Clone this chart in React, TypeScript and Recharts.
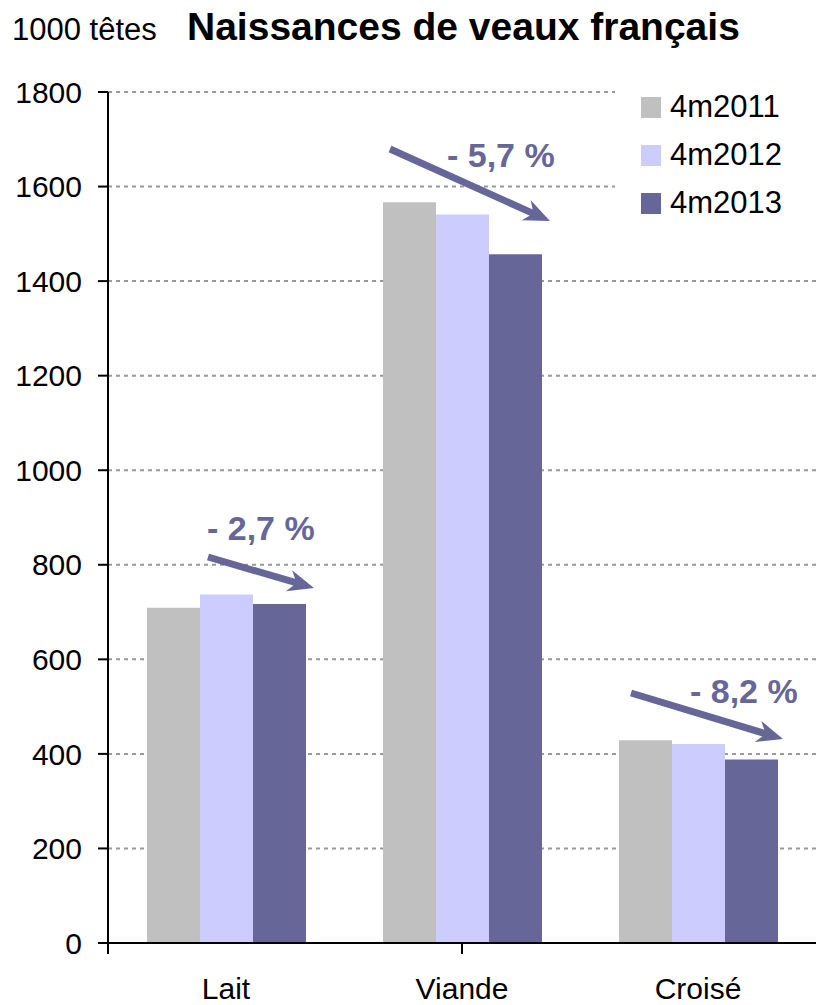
import React from 'react';
import { BarChart, Bar, XAxis, YAxis, CartesianGrid, Legend } from 'recharts';

const CATEGORIES = ['Lait', 'Viande', 'Croisé'];
const SERIES_NAMES = ['4m2011', '4m2012', '4m2013'];
const VALUES_2011 = [709, 1567, 429];
const VALUES_2012 = [737, 1541, 421];
const VALUES_2013 = [717, 1457, 388];
const Y_TICKS = [0, 200, 400, 600, 800, 1000, 1200, 1400, 1600, 1800];
const CHANGE_LABELS = ['- 2,7 %', '- 5,7 %', '- 8,2 %'];

const COLORS = ['#c0c0c0', '#ccccff', '#666699'];
const FONT = '"Liberation Sans", Arial, sans-serif';

const data = CATEGORIES.map((name, i) => ({
  name,
  v2011: VALUES_2011[i],
  v2012: VALUES_2012[i],
  v2013: VALUES_2013[i],
}));

// annotation arrows, pixel positions over the chart
const ARROWS = [
  { x1: 208, y1: 557, x2: 314, y2: 588, tx: 207, ty: 540 },
  { x1: 390, y1: 149, x2: 550, y2: 221, tx: 447, ty: 167 },
  { x1: 631, y1: 693, x2: 783, y2: 739, tx: 690, ty: 703 },
];

const Arrow = ({ x1, y1, x2, y2 }: { x1: number; y1: number; x2: number; y2: number }) => {
  const dx = x2 - x1;
  const dy = y2 - y1;
  const len = Math.sqrt(dx * dx + dy * dy);
  const ux = dx / len;
  const uy = dy / len;
  const nx = -uy;
  const ny = ux;
  const L = 26;
  const W = 11;
  const bx = x2 - L * ux;
  const by = y2 - L * uy;
  const mx = x2 - 0.7 * L * ux;
  const my = y2 - 0.7 * L * uy;
  const pts = `${x2},${y2} ${bx + W * nx},${by + W * ny} ${mx},${my} ${bx - W * nx},${by - W * ny}`;
  return (
    <g>
      <line x1={x1} y1={y1} x2={mx + 2 * ux} y2={my + 2 * uy} stroke="#666699" strokeWidth={7} />
      <polygon points={pts} fill="#666699" />
    </g>
  );
};

const renderLegend = (props: any) => {
  const { payload } = props;
  return (
    <div style={{ background: '#fff', width: 201, height: 150, position: 'relative' }}>
      {(payload || []).map((entry: any, i: number) => (
        <div
          key={`leg-${i}`}
          style={{
            position: 'absolute',
            left: 26,
            top: 15 + i * 48,
            display: 'flex',
            alignItems: 'center',
            height: 22,
          }}
        >
          <span style={{ width: 20, height: 21, background: entry.color, display: 'inline-block' }} />
          <span style={{ marginLeft: 9, fontFamily: FONT, fontSize: 31, color: '#000', lineHeight: '22px' }}>
            {entry.value}
          </span>
        </div>
      ))}
    </div>
  );
};

export default function App() {
  return (
    <div style={{ position: 'absolute', left: 0, top: 0, width: 816, height: 1005, background: '#fff' }}>
      <BarChart
        width={816}
        height={1005}
        data={data}
        margin={{ top: 92, right: 0, bottom: 0, left: 0 }}
        barCategoryGap={39}
        barGap={0}
      >
        <CartesianGrid horizontal vertical={false} stroke="#999999" strokeWidth={2} strokeDasharray="4 4" />
        <XAxis
          dataKey="name"
          height={1}
          axisLine={{ stroke: '#000', strokeWidth: 2 }}
          tickLine={false}
          tickSize={0}
          tickMargin={35}
          tick={{ fill: '#000', fontSize: 30, fontFamily: FONT }}
        />
        {/* category boundary ticks under the axis */}
        <XAxis
          xAxisId="edges"
          type="number"
          domain={[0, 3]}
          ticks={[0, 1, 2, 3]}
          height={61}
          tick={() => <g />}
          axisLine={false}
          tickLine={{ stroke: '#000', strokeWidth: 2 }}
          tickSize={10}
        />
        <YAxis
          width={108}
          domain={[0, 1800]}
          ticks={Y_TICKS}
          interval={0}
          axisLine={{ stroke: '#000', strokeWidth: 2 }}
          tickLine={{ stroke: '#000', strokeWidth: 2 }}
          tickSize={10}
          tickMargin={16}
          tick={{ fill: '#000', fontSize: 30, fontFamily: FONT }}
        />
        <Legend
          layout="vertical"
          align="center"
          verticalAlign="middle"
          content={renderLegend}
          wrapperStyle={{ top: 81, left: 615, width: 201, height: 150 }}
        />
        <Bar dataKey="v2011" name={SERIES_NAMES[0]} fill={COLORS[0]} isAnimationActive={false} />
        <Bar dataKey="v2012" name={SERIES_NAMES[1]} fill={COLORS[1]} isAnimationActive={false} />
        <Bar dataKey="v2013" name={SERIES_NAMES[2]} fill={COLORS[2]} isAnimationActive={false} />
      </BarChart>
      <svg
        width={816}
        height={1005}
        style={{ position: 'absolute', left: 0, top: 0, pointerEvents: 'none' }}
      >
        <text x={12} y={40} fontFamily={FONT} fontSize={31} fill="#000">
          1000 têtes
        </text>
        <text x={187} y={40} fontFamily={FONT} fontSize={39} fontWeight="bold" fill="#000">
          Naissances de veaux français
        </text>
        {ARROWS.map((a, i) => (
          <g key={`arr-${i}`}>
            <Arrow x1={a.x1} y1={a.y1} x2={a.x2} y2={a.y2} />
            <text x={a.tx} y={a.ty} fontFamily={FONT} fontSize={34} fontWeight="bold" fill="#666699">
              {CHANGE_LABELS[i]}
            </text>
          </g>
        ))}
      </svg>
    </div>
  );
}
